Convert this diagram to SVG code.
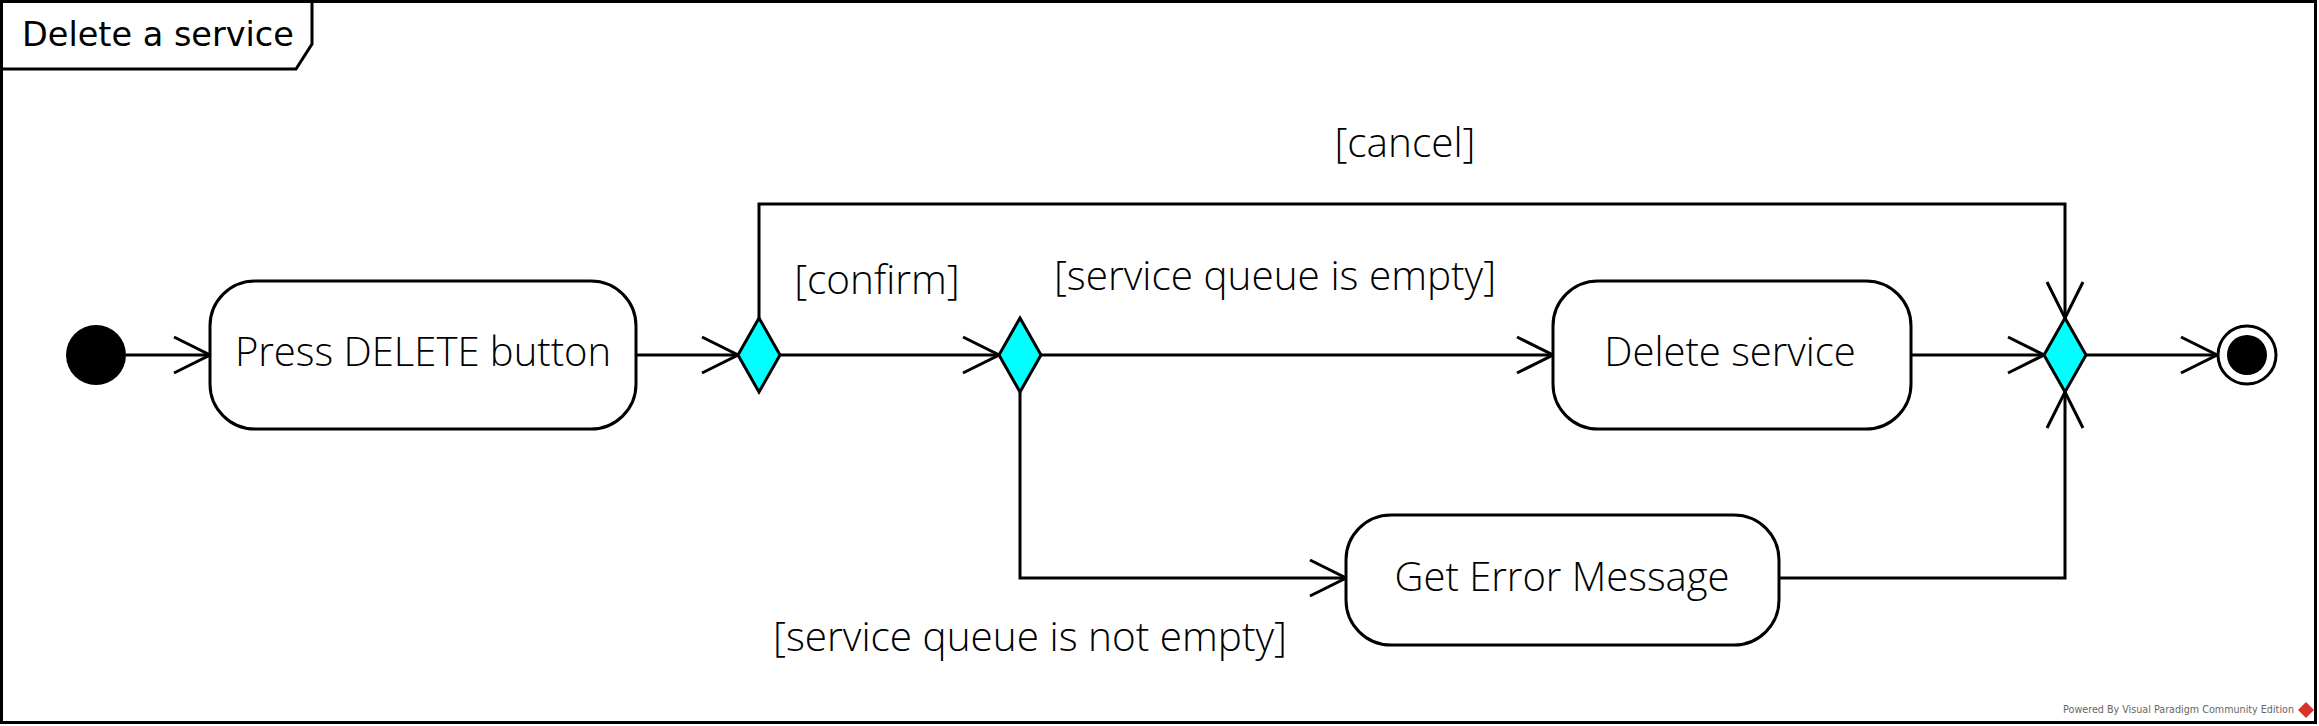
<svg xmlns="http://www.w3.org/2000/svg" width="2319" height="726" viewBox="0 0 2319 726">
<style>
.ln{fill:none;stroke:#000;stroke-width:3}
.act{fill:#fff;stroke:#000;stroke-width:3}
.dec{fill:#00ffff;stroke:#000;stroke-width:3;stroke-linejoin:miter}
.t{font-family:"Open Sans","Noto Sans",sans-serif;font-weight:300;font-size:40px;fill:#000}
.g{font-family:"Open Sans","Noto Sans",sans-serif;font-weight:300;font-size:40.5px;fill:#000}
</style>
<defs>
<marker id="arr" markerUnits="userSpaceOnUse" markerWidth="40" markerHeight="40" viewBox="-38 -20 40 40" refX="0" refY="0" orient="auto">
<path d="M-36,-18 L0,0 L-36,18" fill="none" stroke="#000" stroke-width="3"/>
</marker>
</defs>
<rect x="0" y="0" width="2319" height="726" fill="#fff"/>
<g id="frame">
<rect x="1.5" y="1.5" width="2314" height="721" fill="none" stroke="#000" stroke-width="3"/>
<path d="M1.5,69 H296 L312,44 V1.5" fill="none" stroke="#000" stroke-width="3"/>
<text x="22" y="46" font-family="DejaVu Sans,sans-serif" font-size="33.5" fill="#000">Delete a service</text>
</g>
<g id="connectors">
<path class="ln" d="M126,355 H210" marker-end="url(#arr)"/>
<path class="ln" d="M636,355 H738" marker-end="url(#arr)"/>
<path class="ln" d="M781,355 H999" marker-end="url(#arr)"/>
<path class="ln" d="M759,318 V204 H2065 V318" marker-end="url(#arr)"/>
<path class="ln" d="M1041,355 H1553" marker-end="url(#arr)"/>
<path class="ln" d="M1020,392 V578 H1346" marker-end="url(#arr)"/>
<path class="ln" d="M1911,355 H2044" marker-end="url(#arr)"/>
<path class="ln" d="M1779,578 H2065 V392" marker-end="url(#arr)"/>
<path class="ln" d="M2086,355 H2217" marker-end="url(#arr)"/>
<text class="g" x="1405" y="157" text-anchor="middle">[cancel]</text>
<text class="g" x="877" y="294" text-anchor="middle">[confirm]</text>
<text class="g" x="1275" y="290" text-anchor="middle">[service queue is empty]</text>
<text class="g" x="1030" y="651" text-anchor="middle">[service queue is not empty]</text>
</g>
<g id="initial"><circle cx="96" cy="355" r="30" fill="#000"/></g>
<g id="press"><rect class="act" x="210" y="281" width="426" height="148" rx="45"/><text class="t" x="423" y="366" text-anchor="middle">Press DELETE button</text></g>
<g id="d1"><path class="dec" d="M759,318 L780,355 L759,392 L738,355 Z"/></g>
<g id="d2"><path class="dec" d="M1020,318 L1041,355 L1020,392 L999,355 Z"/></g>
<g id="delete"><rect class="act" x="1553" y="281" width="358" height="148" rx="45"/><text class="t" x="1730" y="366" text-anchor="middle">Delete service</text></g>
<g id="geterror"><rect class="act" x="1346" y="515" width="433" height="130" rx="45"/><text class="t" x="1562" y="591" text-anchor="middle">Get Error Message</text></g>
<g id="d3"><path class="dec" d="M2065,318 L2086,355 L2065,392 L2044,355 Z"/></g>
<g id="final"><circle cx="2247" cy="355" r="29" fill="#fff" stroke="#000" stroke-width="3"/><circle cx="2247" cy="355" r="20" fill="#000"/></g>
<g id="footer">
<text x="2294" y="713" text-anchor="end" font-family="DejaVu Sans,sans-serif" font-size="9.6" fill="#666">Powered By Visual Paradigm Community Edition</text>
<path d="M2306,702 L2314,710 L2306,718 L2298,710 Z" fill="#d9322b"/>
</g>
</svg>
